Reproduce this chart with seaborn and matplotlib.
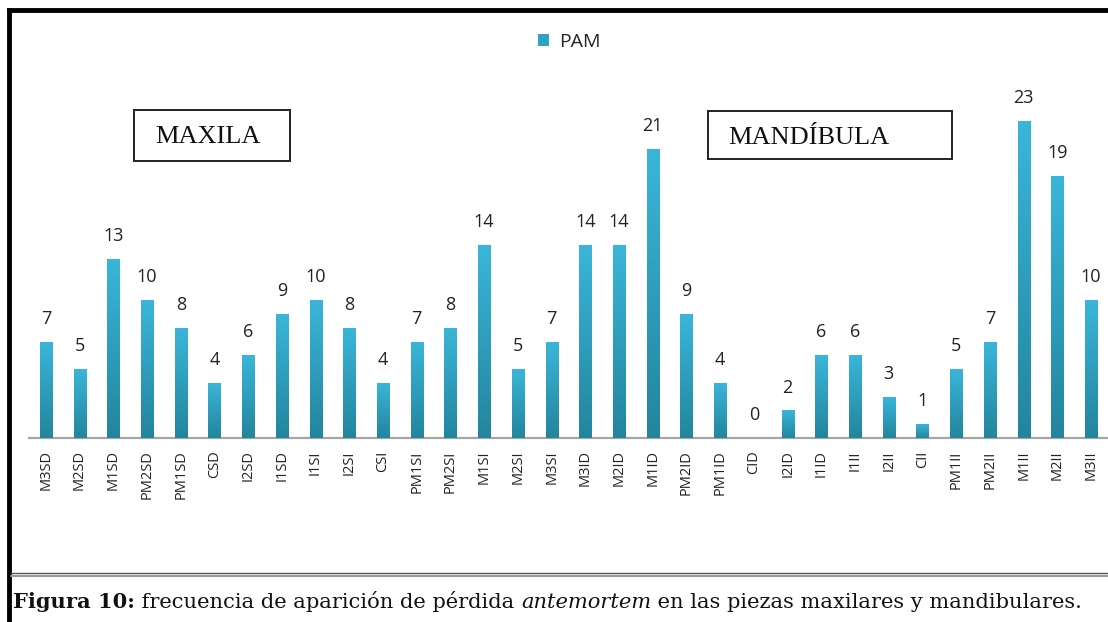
import numpy as np
import pandas as pd
import matplotlib
matplotlib.use("Agg")
import matplotlib.pyplot as plt
import seaborn as sns
from matplotlib.colors import LinearSegmentedColormap
from matplotlib.patches import Rectangle
from matplotlib.lines import Line2D

categories = ["M3SD", "M2SD", "M1SD", "PM2SD", "PM1SD", "CSD", "I2SD", "I1SD",
              "I1SI", "I2SI", "CSI", "PM1SI", "PM2SI", "M1SI", "M2SI", "M3SI",
              "M3ID", "M2ID", "M1ID", "PM2ID", "PM1ID", "CID", "I2ID", "I1ID",
              "I1II", "I2II", "CII", "PM1II", "PM2II", "M1II", "M2II", "M3II"]
values = [7, 5, 13, 10, 8, 4, 6, 9, 10, 8, 4, 7, 8, 14, 5, 7,
          14, 14, 21, 9, 4, 0, 2, 6, 6, 3, 1, 5, 7, 23, 19, 10]
series_name = "PAM"
region_labels = ["MAXILA", "MANDÍBULA"]

df = pd.DataFrame({"pieza": categories, "n": values})

sns.set_theme(style="white")
plt.rcParams['font.family'] = ['Open Sans', 'DejaVu Sans']

W, H = 1108, 622
fig = plt.figure(figsize=(W / 100, H / 100), dpi=100)
fig.patch.set_facecolor("white")

ax = fig.add_axes([29 / W, 1 - 438 / H, 1 - 29 / W, (438 - 80) / H])
ax.set_facecolor("none")

top_c = "#3ab6da"
bot_c = "#23859d"
sns.barplot(data=df, x="pieza", y="n", ax=ax, color=top_c, width=0.36,
            saturation=1, edgecolor="none")
ax.set_xlim(-0.5, len(categories) - 0.5)
ax.set_ylim(0, 26)

# gradient fill inside bars
cmap = LinearSegmentedColormap.from_list("g", [bot_c, top_c])
grad = np.linspace(0, 1, 256).reshape(-1, 1)
for p in ax.patches:
    x0, y0 = p.get_x(), p.get_y()
    w, h = p.get_width(), p.get_height()
    if h <= 0:
        continue
    im = ax.imshow(grad, cmap=cmap, origin="lower", aspect="auto",
                   extent=[x0, x0 + w, y0, y0 + h], zorder=3)
    im.set_clip_path(p)
    p.set_facecolor("none")
ax.set_xlim(-0.5, len(categories) - 0.5)
ax.set_ylim(0, 26)

for i, v in enumerate(values):
    ax.annotate(str(v), (i, v), xytext=(0, 10), textcoords="offset points",
                ha="center", va="bottom", fontsize=13, color="#222222")

for s in ["top", "right", "left"]:
    ax.spines[s].set_visible(False)
ax.spines["bottom"].set_color("#a6a6a6")
ax.spines["bottom"].set_linewidth(1.6)
ax.set_yticks([])
ax.set_xlabel("")
ax.set_ylabel("")
ax.tick_params(axis="x", length=0, pad=9)
for t in ax.get_xticklabels():
    t.set_rotation(90)
    t.set_fontsize(10.5)
    t.set_color("#222222")
    t.set_va("top")
    t.set_ha("center")

# legend
leg_handle = Rectangle((0, 0), 1, 1, facecolor="#2fa3c4", edgecolor="none")
fig.legend([leg_handle], [series_name], loc="center", bbox_to_anchor=(569 / W, 1 - 42 / H),
           frameon=False, fontsize=14, handlelength=0.6, handleheight=0.6,
           handletextpad=0.5)

# region boxes
boxes = [(134, 110, 290, 161, 155, 137), (708, 111, 952, 159, 728, 138)]
for lab, (bx0, by0, bx1, by1, tx, ty) in zip(region_labels, boxes):
    fig.add_artist(Rectangle((bx0 / W, 1 - by1 / H), (bx1 - bx0) / W, (by1 - by0) / H,
                             transform=fig.transFigure, facecolor="white",
                             edgecolor="#222222", lw=1.4))
    fig.text(tx / W, 1 - ty / H, lab, ha="left", va="center",
             fontsize=19, family="Liberation Serif", color="#111111")

# outer frame (black)
fig.add_artist(Line2D([9 / W, 9 / W], [0, 1 - 10 / H], color="black", lw=3.5,
                      transform=fig.transFigure, solid_capstyle="projecting"))
fig.add_artist(Line2D([9 / W, 1], [1 - 10 / H, 1 - 10 / H], color="black", lw=3.5,
                      transform=fig.transFigure, solid_capstyle="projecting"))
# separator
fig.add_artist(Line2D([11 / W, 1], [1 - 573 / H, 1 - 573 / H], color="#555555", lw=1.0,
                      transform=fig.transFigure))
fig.add_artist(Line2D([11 / W, 1], [1 - 575.5 / H, 1 - 575.5 / H], color="#9a9a9a", lw=1.5,
                      transform=fig.transFigure))

# caption with mixed styles
fig.canvas.draw()
r = fig.canvas.get_renderer()
pieces = [("Figura 10:", "bold", "normal"),
          (" frecuencia de aparición de pérdida ", "normal", "normal"),
          ("antemortem", "normal", "italic"),
          (" en las piezas maxilares y mandibulares.", "normal", "normal")]
x = 13
for txt, wt, st in pieces:
    t = fig.text(x / W, 1 - 602 / H, txt, ha="left", va="center", fontsize=15.1,
                 family="DejaVu Serif", weight=wt, style=st, color="#111111")
    bb = t.get_window_extent(renderer=r)
    x += bb.width

fig.savefig("out.png", dpi=100, facecolor="white")
